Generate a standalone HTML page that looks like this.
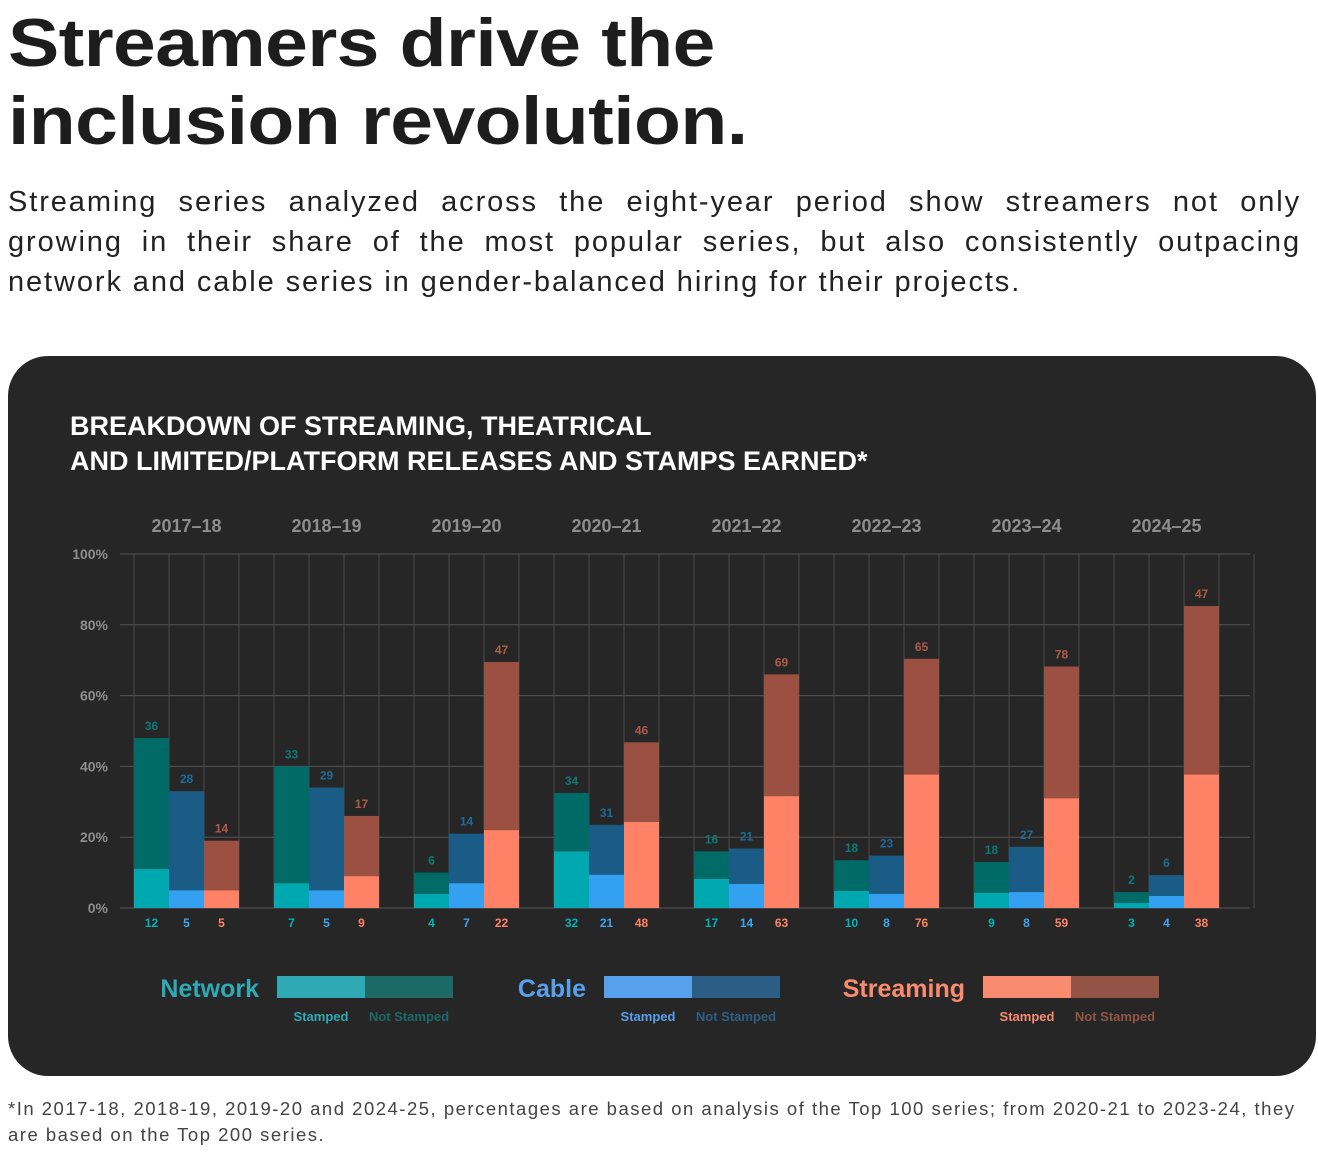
<!DOCTYPE html>
<html><head><meta charset="utf-8"><style>
body{margin:0;background:#fff;width:1318px;height:1166px;position:relative;font-family:"Liberation Sans",sans-serif;overflow:hidden}
h1{position:absolute;left:8px;top:4px;margin:0;font-size:68px;line-height:78px;font-weight:bold;color:#1d1d1d;letter-spacing:-0.5px;transform:scaleX(1.13);transform-origin:0 0;white-space:nowrap}
.sub{position:absolute;left:8px;top:182px;width:1293px;margin:0;font-size:29px;line-height:40px;color:#222;letter-spacing:1.9px}
.sub div{text-align:justify;text-align-last:justify;white-space:nowrap}
.sub div.last{text-align-last:left}
.card{position:absolute;left:8px;top:356px;width:1308px;height:720px;background:#262626;border-radius:40px}
.foot{position:absolute;left:8px;top:1096px;width:1300px;font-size:18.5px;line-height:26px;color:#444;letter-spacing:1.5px;white-space:nowrap}
</style></head><body>
<h1>Streamers drive the<br>inclusion revolution.</h1>
<div class="sub">
<div>Streaming series analyzed across the eight-year period show streamers not only</div>
<div>growing in their share of the most popular series, but also consistently outpacing</div>
<div class="last">network and cable series in gender-balanced hiring for their projects.</div>
</div>
<div class="card"></div>
<svg id="chart" width="1318" height="1166" style="position:absolute;left:0;top:0" font-family="Liberation Sans, sans-serif"></svg>
<div class="foot">*In 2017-18, 2018-19, 2019-20 and 2024-25, percentages are based on analysis of the Top 100 series; from 2020-21 to 2023-24, they<br>are based on the Top 200 series.</div>
<script>
const years=["2017–18","2018–19","2019–20","2020–21","2021–22","2022–23","2023–24","2024–25"];
const netTotal=[48,40,10,32.5,16,13.5,13,4.5];
const netStamp=[11,7,4,16,8.2,4.8,4.3,1.4];
const cabTotal=[33,34,21,23.5,16.8,14.8,17.3,9.3];
const cabStamp=[5,5,7,9.4,6.8,4,4.5,3.4];
const strTotal=[19,26,69.5,46.8,66,70.4,68.2,85.3];
const strStamp=[5,9,22,24.3,31.6,37.7,31,37.7];
const netNum=[12,7,4,32,17,10,9,3], netNot=[36,33,6,34,16,18,18,2];
const cabNum=[5,5,7,21,14,8,8,4], cabNot=[28,29,14,31,21,23,27,6];
const strNum=[5,9,22,48,63,76,59,38], strNot=[14,17,47,46,69,65,78,47];
const yTicks=[0,20,40,60,80,100];
const svg=document.getElementById('chart');
const NS='http://www.w3.org/2000/svg';
const y0=908,yScale=3.54,x0=134,cw=35;
const yv=v=>y0-v*yScale;
const xc=(g,k)=>x0+(4*g+k)*cw;
function mk(t,a,txt){const e=document.createElementNS(NS,t);for(const k in a)e.setAttribute(k,a[k]);if(txt!==undefined)e.textContent=txt;svg.appendChild(e);return e;}
let e;
e=mk('text',{x:70,y:435,fill:'#fff','font-size':27,'font-weight':'bold'},'BREAKDOWN OF STREAMING, THEATRICAL');

e=mk('text',{x:70,y:470,fill:'#fff','font-size':27,'font-weight':'bold'},'AND LIMITED/PLATFORM RELEASES AND STAMPS EARNED*');

yTicks.forEach(t=>{
 e=mk('line',{x1:120,x2:1250,y1:yv(t),y2:yv(t),stroke:'#555','stroke-width':1});
 
 e=mk('text',{x:108,y:yv(t)+5,fill:'#8e8e8e','font-size':14,'font-weight':'bold','text-anchor':'end'},t+'%');
 
});
for(let i=0;i<=32;i++){
 e=mk('line',{x1:x0+i*cw,x2:x0+i*cw,y1:yv(100),y2:y0,stroke:'#4a4a4a','stroke-width':1});
 
}
const series=[
 {tot:netTotal,st:netStamp,num:netNum,not:netNot,c1:'#00a8b0',c2:'#006b66',l1:'#00b3bb',l2:'#0a7a76',n:'network'},
 {tot:cabTotal,st:cabStamp,num:cabNum,not:cabNot,c1:'#33a0f0',c2:'#1b5c86',l1:'#3aa6f2',l2:'#1f6a98',n:'cable'},
 {tot:strTotal,st:strStamp,num:strNum,not:strNot,c1:'#ff8266',c2:'#9b5041',l1:'#ff8266',l2:'#b05a48',n:'streaming'}];
years.forEach((yr,g)=>{
 e=mk('text',{x:xc(g,1.5),y:532,fill:'#8e8e8e','font-size':18,'font-weight':'bold','text-anchor':'middle'},yr);
 
 series.forEach((s,k)=>{
  const x=xc(g,k);
  e=mk('rect',{x:x,y:yv(s.tot[g]),width:cw,height:(s.tot[g]-s.st[g])*yScale,fill:s.c2});
  
  e=mk('rect',{x:x,y:yv(s.st[g]),width:cw,height:s.st[g]*yScale,fill:s.c1});
  
  e=mk('text',{x:x+cw/2,y:yv(s.tot[g])-8,fill:s.l2,'font-size':12,'font-weight':'bold','text-anchor':'middle'},s.not[g]);
  
  e=mk('text',{x:x+cw/2,y:927,fill:s.l1,'font-size':12,'font-weight':'bold','text-anchor':'middle'},s.num[g]);
  
 });
});
const legend=[
 {t:'Network',tx:259,bx:277,c1:'#2fa9b4',c2:'#1b6a68',l1:'#2fa9b4',l2:'#1b6a68'},
 {t:'Cable',tx:586,bx:604,c1:'#57a0ec',c2:'#2c5e85',l1:'#57a0ec',l2:'#2c5e85'},
 {t:'Streaming',tx:965,bx:983,c1:'#f98b70',c2:'#935446',l1:'#f98b70',l2:'#935446'}];
legend.forEach(L=>{
 e=mk('text',{x:L.tx,y:997,fill:L.c1,'font-size':25,'font-weight':'bold','text-anchor':'end'},L.t);
 
 e=mk('rect',{x:L.bx,y:976,width:88,height:22,fill:L.c1});
 
 e=mk('rect',{x:L.bx+88,y:976,width:88,height:22,fill:L.c2});
 
 e=mk('text',{x:L.bx+44,y:1021,fill:L.l1,'font-size':13,'font-weight':'bold','text-anchor':'middle'},'Stamped');
 
 e=mk('text',{x:L.bx+132,y:1021,fill:L.l2,'font-size':13,'font-weight':'bold','text-anchor':'middle'},'Not Stamped');
 
});
</script>
</body></html>
